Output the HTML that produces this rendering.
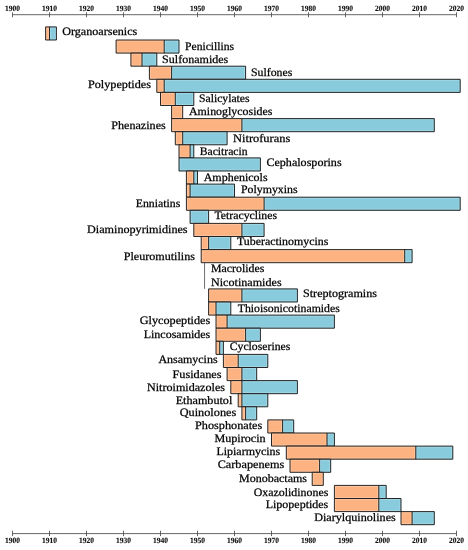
<!DOCTYPE html><html><head><meta charset="utf-8"><title>Antibiotic classes timeline</title><style>html,body{margin:0;padding:0;background:#fff}svg{display:block;will-change:transform;opacity:.999}text{font-family:"Liberation Serif",serif;text-rendering:geometricPrecision}</style></head><body>
<svg width="468" height="550" viewBox="0 0 468 550">
<rect width="468" height="550" fill="#fff"/>
<path d="M12.50 14.7H456.50M12.50 12.30V17.20M49.50 12.30V17.20M86.50 12.30V17.20M123.50 12.30V17.20M160.50 12.30V17.20M197.50 12.30V17.20M234.50 12.30V17.20M271.50 12.30V17.20M308.50 12.30V17.20M345.50 12.30V17.20M382.50 12.30V17.20M419.50 12.30V17.20M456.50 12.30V17.20" stroke="#4a4a4a" stroke-width="0.85" fill="none"/>
<text x="12.50" y="10.5" font-size="8" font-weight="bold" text-anchor="middle" textLength="15" lengthAdjust="spacingAndGlyphs" fill="#111" stroke="#111" stroke-width="0.12">1900</text>
<text x="49.50" y="10.5" font-size="8" font-weight="bold" text-anchor="middle" textLength="15" lengthAdjust="spacingAndGlyphs" fill="#111" stroke="#111" stroke-width="0.12">1910</text>
<text x="86.50" y="10.5" font-size="8" font-weight="bold" text-anchor="middle" textLength="15" lengthAdjust="spacingAndGlyphs" fill="#111" stroke="#111" stroke-width="0.12">1920</text>
<text x="123.50" y="10.5" font-size="8" font-weight="bold" text-anchor="middle" textLength="15" lengthAdjust="spacingAndGlyphs" fill="#111" stroke="#111" stroke-width="0.12">1930</text>
<text x="160.50" y="10.5" font-size="8" font-weight="bold" text-anchor="middle" textLength="15" lengthAdjust="spacingAndGlyphs" fill="#111" stroke="#111" stroke-width="0.12">1940</text>
<text x="197.50" y="10.5" font-size="8" font-weight="bold" text-anchor="middle" textLength="15" lengthAdjust="spacingAndGlyphs" fill="#111" stroke="#111" stroke-width="0.12">1950</text>
<text x="234.50" y="10.5" font-size="8" font-weight="bold" text-anchor="middle" textLength="15" lengthAdjust="spacingAndGlyphs" fill="#111" stroke="#111" stroke-width="0.12">1960</text>
<text x="271.50" y="10.5" font-size="8" font-weight="bold" text-anchor="middle" textLength="15" lengthAdjust="spacingAndGlyphs" fill="#111" stroke="#111" stroke-width="0.12">1970</text>
<text x="308.50" y="10.5" font-size="8" font-weight="bold" text-anchor="middle" textLength="15" lengthAdjust="spacingAndGlyphs" fill="#111" stroke="#111" stroke-width="0.12">1980</text>
<text x="345.50" y="10.5" font-size="8" font-weight="bold" text-anchor="middle" textLength="15" lengthAdjust="spacingAndGlyphs" fill="#111" stroke="#111" stroke-width="0.12">1990</text>
<text x="382.50" y="10.5" font-size="8" font-weight="bold" text-anchor="middle" textLength="15" lengthAdjust="spacingAndGlyphs" fill="#111" stroke="#111" stroke-width="0.12">2000</text>
<text x="419.50" y="10.5" font-size="8" font-weight="bold" text-anchor="middle" textLength="15" lengthAdjust="spacingAndGlyphs" fill="#111" stroke="#111" stroke-width="0.12">2010</text>
<text x="456.50" y="10.5" font-size="8" font-weight="bold" text-anchor="middle" textLength="15" lengthAdjust="spacingAndGlyphs" fill="#111" stroke="#111" stroke-width="0.12">2020</text>
<path d="M12.50 533.6H456.50M12.50 530.70V536.10M49.50 530.70V536.10M86.50 530.70V536.10M123.50 530.70V536.10M160.50 530.70V536.10M197.50 530.70V536.10M234.50 530.70V536.10M271.50 530.70V536.10M308.50 530.70V536.10M345.50 530.70V536.10M382.50 530.70V536.10M419.50 530.70V536.10M456.50 530.70V536.10" stroke="#4a4a4a" stroke-width="0.85" fill="none"/>
<text x="12.50" y="542.7" font-size="8" font-weight="bold" text-anchor="middle" textLength="15" lengthAdjust="spacingAndGlyphs" fill="#111" stroke="#111" stroke-width="0.12">1900</text>
<text x="49.50" y="542.7" font-size="8" font-weight="bold" text-anchor="middle" textLength="15" lengthAdjust="spacingAndGlyphs" fill="#111" stroke="#111" stroke-width="0.12">1910</text>
<text x="86.50" y="542.7" font-size="8" font-weight="bold" text-anchor="middle" textLength="15" lengthAdjust="spacingAndGlyphs" fill="#111" stroke="#111" stroke-width="0.12">1920</text>
<text x="123.50" y="542.7" font-size="8" font-weight="bold" text-anchor="middle" textLength="15" lengthAdjust="spacingAndGlyphs" fill="#111" stroke="#111" stroke-width="0.12">1930</text>
<text x="160.50" y="542.7" font-size="8" font-weight="bold" text-anchor="middle" textLength="15" lengthAdjust="spacingAndGlyphs" fill="#111" stroke="#111" stroke-width="0.12">1940</text>
<text x="197.50" y="542.7" font-size="8" font-weight="bold" text-anchor="middle" textLength="15" lengthAdjust="spacingAndGlyphs" fill="#111" stroke="#111" stroke-width="0.12">1950</text>
<text x="234.50" y="542.7" font-size="8" font-weight="bold" text-anchor="middle" textLength="15" lengthAdjust="spacingAndGlyphs" fill="#111" stroke="#111" stroke-width="0.12">1960</text>
<text x="271.50" y="542.7" font-size="8" font-weight="bold" text-anchor="middle" textLength="15" lengthAdjust="spacingAndGlyphs" fill="#111" stroke="#111" stroke-width="0.12">1970</text>
<text x="308.50" y="542.7" font-size="8" font-weight="bold" text-anchor="middle" textLength="15" lengthAdjust="spacingAndGlyphs" fill="#111" stroke="#111" stroke-width="0.12">1980</text>
<text x="345.50" y="542.7" font-size="8" font-weight="bold" text-anchor="middle" textLength="15" lengthAdjust="spacingAndGlyphs" fill="#111" stroke="#111" stroke-width="0.12">1990</text>
<text x="382.50" y="542.7" font-size="8" font-weight="bold" text-anchor="middle" textLength="15" lengthAdjust="spacingAndGlyphs" fill="#111" stroke="#111" stroke-width="0.12">2000</text>
<text x="419.50" y="542.7" font-size="8" font-weight="bold" text-anchor="middle" textLength="15" lengthAdjust="spacingAndGlyphs" fill="#111" stroke="#111" stroke-width="0.12">2010</text>
<text x="456.50" y="542.7" font-size="8" font-weight="bold" text-anchor="middle" textLength="15" lengthAdjust="spacingAndGlyphs" fill="#111" stroke="#111" stroke-width="0.12">2020</text>
<rect x="45.62" y="26.90" width="3.88" height="13.10" fill="#FDB381"/><rect x="49.50" y="26.90" width="6.92" height="13.10" fill="#87CBDD"/><rect x="46.67" y="27.95" width="1.78" height="11.00" fill="none" stroke="#fff" stroke-opacity="0.22" stroke-width="1"/><rect x="50.55" y="27.95" width="4.82" height="11.00" fill="none" stroke="#fff" stroke-opacity="0.22" stroke-width="1"/><path d="M45.62 26.90H56.42V40.00H45.62ZM49.50 26.90V40.00" fill="none" stroke="#1c1c1c" stroke-width="0.95"/>
<text x="62.20" y="34.80" font-size="11.4" textLength="75.10" lengthAdjust="spacingAndGlyphs" fill="#000" stroke="#000" stroke-width="0.25">Organoarsenics</text>
<rect x="116.10" y="40.00" width="48.10" height="13.10" fill="#FDB381"/><rect x="164.20" y="40.00" width="14.80" height="13.10" fill="#87CBDD"/><rect x="117.15" y="41.05" width="46.00" height="11.00" fill="none" stroke="#fff" stroke-opacity="0.22" stroke-width="1"/><rect x="165.25" y="41.05" width="12.70" height="11.00" fill="none" stroke="#fff" stroke-opacity="0.22" stroke-width="1"/><path d="M116.10 40.00H179.00V53.10H116.10ZM164.20 40.00V53.10" fill="none" stroke="#1c1c1c" stroke-width="0.95"/>
<text x="185.00" y="50.20" font-size="11.4" textLength="49.10" lengthAdjust="spacingAndGlyphs" fill="#000" stroke="#000" stroke-width="0.25">Penicillins</text>
<rect x="130.90" y="53.10" width="11.10" height="13.10" fill="#FDB381"/><rect x="142.00" y="53.10" width="14.80" height="13.10" fill="#87CBDD"/><rect x="131.95" y="54.15" width="9.00" height="11.00" fill="none" stroke="#fff" stroke-opacity="0.22" stroke-width="1"/><rect x="143.05" y="54.15" width="12.70" height="11.00" fill="none" stroke="#fff" stroke-opacity="0.22" stroke-width="1"/><path d="M130.90 53.10H156.80V66.20H130.90ZM142.00 53.10V66.20" fill="none" stroke="#1c1c1c" stroke-width="0.95"/>
<text x="162.10" y="63.30" font-size="11.4" textLength="66.20" lengthAdjust="spacingAndGlyphs" fill="#000" stroke="#000" stroke-width="0.25">Sulfonamides</text>
<rect x="149.40" y="66.20" width="22.20" height="13.10" fill="#FDB381"/><rect x="171.60" y="66.20" width="74.00" height="13.10" fill="#87CBDD"/><rect x="150.45" y="67.25" width="20.10" height="11.00" fill="none" stroke="#fff" stroke-opacity="0.22" stroke-width="1"/><rect x="172.65" y="67.25" width="71.90" height="11.00" fill="none" stroke="#fff" stroke-opacity="0.22" stroke-width="1"/><path d="M149.40 66.20H245.60V79.30H149.40ZM171.60 66.20V79.30" fill="none" stroke="#1c1c1c" stroke-width="0.95"/>
<text x="251.00" y="76.20" font-size="11.4" textLength="41.30" lengthAdjust="spacingAndGlyphs" fill="#000" stroke="#000" stroke-width="0.25">Sulfones</text>
<rect x="156.80" y="79.30" width="7.40" height="13.10" fill="#FDB381"/><rect x="164.20" y="79.30" width="296.00" height="13.10" fill="#87CBDD"/><rect x="157.85" y="80.35" width="5.30" height="11.00" fill="none" stroke="#fff" stroke-opacity="0.22" stroke-width="1"/><rect x="165.25" y="80.35" width="293.90" height="11.00" fill="none" stroke="#fff" stroke-opacity="0.22" stroke-width="1"/><path d="M156.80 79.30H460.20V92.40H156.80ZM164.20 79.30V92.40" fill="none" stroke="#1c1c1c" stroke-width="0.95"/>
<text x="87.90" y="88.00" font-size="11.4" textLength="63.10" lengthAdjust="spacingAndGlyphs" fill="#000" stroke="#000" stroke-width="0.25">Polypeptides</text>
<rect x="160.50" y="92.40" width="14.80" height="13.10" fill="#FDB381"/><rect x="175.30" y="92.40" width="18.50" height="13.10" fill="#87CBDD"/><rect x="161.55" y="93.45" width="12.70" height="11.00" fill="none" stroke="#fff" stroke-opacity="0.22" stroke-width="1"/><rect x="176.35" y="93.45" width="16.40" height="11.00" fill="none" stroke="#fff" stroke-opacity="0.22" stroke-width="1"/><path d="M160.50 92.40H193.80V105.50H160.50ZM175.30 92.40V105.50" fill="none" stroke="#1c1c1c" stroke-width="0.95"/>
<text x="199.00" y="101.70" font-size="11.4" textLength="50.60" lengthAdjust="spacingAndGlyphs" fill="#000" stroke="#000" stroke-width="0.25">Salicylates</text>
<rect x="171.60" y="105.50" width="11.10" height="13.10" fill="#FDB381"/><rect x="172.65" y="106.55" width="9.00" height="11.00" fill="none" stroke="#fff" stroke-opacity="0.22" stroke-width="1"/><path d="M171.60 105.50H182.70V118.60H171.60Z" fill="none" stroke="#1c1c1c" stroke-width="0.95"/>
<text x="189.00" y="114.70" font-size="11.4" textLength="83.30" lengthAdjust="spacingAndGlyphs" fill="#000" stroke="#000" stroke-width="0.25">Aminoglycosides</text>
<rect x="171.60" y="118.60" width="70.30" height="13.10" fill="#FDB381"/><rect x="241.90" y="118.60" width="192.40" height="13.10" fill="#87CBDD"/><rect x="172.65" y="119.65" width="68.20" height="11.00" fill="none" stroke="#fff" stroke-opacity="0.22" stroke-width="1"/><rect x="242.95" y="119.65" width="190.30" height="11.00" fill="none" stroke="#fff" stroke-opacity="0.22" stroke-width="1"/><path d="M171.60 118.60H434.30V131.70H171.60ZM241.90 118.60V131.70" fill="none" stroke="#1c1c1c" stroke-width="0.95"/>
<text x="111.20" y="128.70" font-size="11.4" textLength="54.60" lengthAdjust="spacingAndGlyphs" fill="#000" stroke="#000" stroke-width="0.25">Phenazines</text>
<rect x="175.30" y="131.70" width="7.40" height="13.10" fill="#FDB381"/><rect x="182.70" y="131.70" width="44.40" height="13.10" fill="#87CBDD"/><rect x="176.35" y="132.75" width="5.30" height="11.00" fill="none" stroke="#fff" stroke-opacity="0.22" stroke-width="1"/><rect x="183.75" y="132.75" width="42.30" height="11.00" fill="none" stroke="#fff" stroke-opacity="0.22" stroke-width="1"/><path d="M175.30 131.70H227.10V144.80H175.30ZM182.70 131.70V144.80" fill="none" stroke="#1c1c1c" stroke-width="0.95"/>
<text x="233.00" y="141.80" font-size="11.4" textLength="57.30" lengthAdjust="spacingAndGlyphs" fill="#000" stroke="#000" stroke-width="0.25">Nitrofurans</text>
<rect x="179.00" y="144.80" width="11.10" height="13.10" fill="#FDB381"/><rect x="190.10" y="144.80" width="3.70" height="13.10" fill="#87CBDD"/><rect x="180.05" y="145.85" width="9.00" height="11.00" fill="none" stroke="#fff" stroke-opacity="0.22" stroke-width="1"/><rect x="191.15" y="145.85" width="1.60" height="11.00" fill="none" stroke="#fff" stroke-opacity="0.22" stroke-width="1"/><path d="M179.00 144.80H193.80V157.90H179.00ZM190.10 144.80V157.90" fill="none" stroke="#1c1c1c" stroke-width="0.95"/>
<text x="199.70" y="154.50" font-size="11.4" textLength="47.90" lengthAdjust="spacingAndGlyphs" fill="#000" stroke="#000" stroke-width="0.25">Bacitracin</text>
<rect x="179.00" y="157.90" width="81.40" height="13.10" fill="#87CBDD"/><rect x="180.05" y="158.95" width="79.30" height="11.00" fill="none" stroke="#fff" stroke-opacity="0.22" stroke-width="1"/><path d="M179.00 157.90H260.40V171.00H179.00Z" fill="none" stroke="#1c1c1c" stroke-width="0.95"/>
<text x="266.40" y="166.30" font-size="11.4" textLength="75.20" lengthAdjust="spacingAndGlyphs" fill="#000" stroke="#000" stroke-width="0.25">Cephalosporins</text>
<rect x="186.40" y="171.00" width="7.40" height="13.10" fill="#FDB381"/><rect x="193.80" y="171.00" width="3.70" height="13.10" fill="#87CBDD"/><rect x="187.45" y="172.05" width="5.30" height="11.00" fill="none" stroke="#fff" stroke-opacity="0.22" stroke-width="1"/><rect x="194.85" y="172.05" width="1.60" height="11.00" fill="none" stroke="#fff" stroke-opacity="0.22" stroke-width="1"/><path d="M186.40 171.00H197.50V184.10H186.40ZM193.80 171.00V184.10" fill="none" stroke="#1c1c1c" stroke-width="0.95"/>
<text x="203.70" y="180.60" font-size="11.4" textLength="63.90" lengthAdjust="spacingAndGlyphs" fill="#000" stroke="#000" stroke-width="0.25">Amphenicols</text>
<rect x="186.40" y="184.10" width="3.70" height="13.10" fill="#FDB381"/><rect x="190.10" y="184.10" width="44.40" height="13.10" fill="#87CBDD"/><rect x="187.45" y="185.15" width="1.60" height="11.00" fill="none" stroke="#fff" stroke-opacity="0.22" stroke-width="1"/><rect x="191.15" y="185.15" width="42.30" height="11.00" fill="none" stroke="#fff" stroke-opacity="0.22" stroke-width="1"/><path d="M186.40 184.10H234.50V197.20H186.40ZM190.10 184.10V197.20" fill="none" stroke="#1c1c1c" stroke-width="0.95"/>
<text x="241.00" y="193.10" font-size="11.4" textLength="56.60" lengthAdjust="spacingAndGlyphs" fill="#000" stroke="#000" stroke-width="0.25">Polymyxins</text>
<rect x="186.40" y="197.20" width="77.70" height="13.10" fill="#FDB381"/><rect x="264.10" y="197.20" width="196.10" height="13.10" fill="#87CBDD"/><rect x="187.45" y="198.25" width="75.60" height="11.00" fill="none" stroke="#fff" stroke-opacity="0.22" stroke-width="1"/><rect x="265.15" y="198.25" width="194.00" height="11.00" fill="none" stroke="#fff" stroke-opacity="0.22" stroke-width="1"/><path d="M186.40 197.20H460.20V210.30H186.40ZM264.10 197.20V210.30" fill="none" stroke="#1c1c1c" stroke-width="0.95"/>
<text x="135.70" y="207.00" font-size="11.4" textLength="44.60" lengthAdjust="spacingAndGlyphs" fill="#000" stroke="#000" stroke-width="0.25">Enniatins</text>
<rect x="190.10" y="210.30" width="18.50" height="13.10" fill="#87CBDD"/><rect x="191.15" y="211.35" width="16.40" height="11.00" fill="none" stroke="#fff" stroke-opacity="0.22" stroke-width="1"/><path d="M190.10 210.30H208.60V223.40H190.10Z" fill="none" stroke="#1c1c1c" stroke-width="0.95"/>
<text x="214.40" y="219.10" font-size="11.4" textLength="62.60" lengthAdjust="spacingAndGlyphs" fill="#000" stroke="#000" stroke-width="0.25">Tetracyclines</text>
<rect x="193.80" y="223.40" width="48.10" height="13.10" fill="#FDB381"/><rect x="241.90" y="223.40" width="22.20" height="13.10" fill="#87CBDD"/><rect x="194.85" y="224.45" width="46.00" height="11.00" fill="none" stroke="#fff" stroke-opacity="0.22" stroke-width="1"/><rect x="242.95" y="224.45" width="20.10" height="11.00" fill="none" stroke="#fff" stroke-opacity="0.22" stroke-width="1"/><path d="M193.80 223.40H264.10V236.50H193.80ZM241.90 223.40V236.50" fill="none" stroke="#1c1c1c" stroke-width="0.95"/>
<text x="87.00" y="232.90" font-size="11.4" textLength="100.60" lengthAdjust="spacingAndGlyphs" fill="#000" stroke="#000" stroke-width="0.25">Diaminopyrimidines</text>
<rect x="201.20" y="236.50" width="7.40" height="13.10" fill="#FDB381"/><rect x="208.60" y="236.50" width="22.20" height="13.10" fill="#87CBDD"/><rect x="202.25" y="237.55" width="5.30" height="11.00" fill="none" stroke="#fff" stroke-opacity="0.22" stroke-width="1"/><rect x="209.65" y="237.55" width="20.10" height="11.00" fill="none" stroke="#fff" stroke-opacity="0.22" stroke-width="1"/><path d="M201.20 236.50H230.80V249.60H201.20ZM208.60 236.50V249.60" fill="none" stroke="#1c1c1c" stroke-width="0.95"/>
<text x="237.00" y="245.30" font-size="11.4" textLength="91.30" lengthAdjust="spacingAndGlyphs" fill="#000" stroke="#000" stroke-width="0.25">Tuberactinomycins</text>
<rect x="201.20" y="249.60" width="203.50" height="13.10" fill="#FDB381"/><rect x="404.70" y="249.60" width="7.40" height="13.10" fill="#87CBDD"/><rect x="202.25" y="250.65" width="201.40" height="11.00" fill="none" stroke="#fff" stroke-opacity="0.22" stroke-width="1"/><rect x="405.75" y="250.65" width="5.30" height="11.00" fill="none" stroke="#fff" stroke-opacity="0.22" stroke-width="1"/><path d="M201.20 249.60H412.10V262.70H201.20ZM404.70 249.60V262.70" fill="none" stroke="#1c1c1c" stroke-width="0.95"/>
<text x="123.70" y="259.55" font-size="11.4" textLength="71.30" lengthAdjust="spacingAndGlyphs" fill="#000" stroke="#000" stroke-width="0.25">Pleuromutilins</text>
<path d="M204.55 262.70V275.80" fill="none" stroke="#4a4a4a" stroke-width="0.8"/>
<text x="211.00" y="272.40" font-size="11.4" textLength="53.30" lengthAdjust="spacingAndGlyphs" fill="#000" stroke="#000" stroke-width="0.25">Macrolides</text>
<path d="M204.55 275.80V288.90" fill="none" stroke="#4a4a4a" stroke-width="0.8"/>
<text x="211.00" y="285.80" font-size="11.4" textLength="70.60" lengthAdjust="spacingAndGlyphs" fill="#000" stroke="#000" stroke-width="0.25">Nicotinamides</text>
<rect x="208.60" y="288.90" width="33.30" height="13.10" fill="#FDB381"/><rect x="241.90" y="288.90" width="55.50" height="13.10" fill="#87CBDD"/><rect x="209.65" y="289.95" width="31.20" height="11.00" fill="none" stroke="#fff" stroke-opacity="0.22" stroke-width="1"/><rect x="242.95" y="289.95" width="53.40" height="11.00" fill="none" stroke="#fff" stroke-opacity="0.22" stroke-width="1"/><path d="M208.60 288.90H297.40V302.00H208.60ZM241.90 288.90V302.00" fill="none" stroke="#1c1c1c" stroke-width="0.95"/>
<text x="303.00" y="296.80" font-size="11.4" textLength="74.00" lengthAdjust="spacingAndGlyphs" fill="#000" stroke="#000" stroke-width="0.25">Streptogramins</text>
<rect x="208.60" y="302.00" width="7.40" height="13.10" fill="#FDB381"/><rect x="216.00" y="302.00" width="14.80" height="13.10" fill="#87CBDD"/><rect x="209.65" y="303.05" width="5.30" height="11.00" fill="none" stroke="#fff" stroke-opacity="0.22" stroke-width="1"/><rect x="217.05" y="303.05" width="12.70" height="11.00" fill="none" stroke="#fff" stroke-opacity="0.22" stroke-width="1"/><path d="M208.60 302.00H230.80V315.10H208.60ZM216.00 302.00V315.10" fill="none" stroke="#1c1c1c" stroke-width="0.95"/>
<text x="237.70" y="312.30" font-size="11.4" textLength="102.10" lengthAdjust="spacingAndGlyphs" fill="#000" stroke="#000" stroke-width="0.25">Thioisonicotinamides</text>
<rect x="216.00" y="315.10" width="11.10" height="13.10" fill="#FDB381"/><rect x="227.10" y="315.10" width="107.30" height="13.10" fill="#87CBDD"/><rect x="217.05" y="316.15" width="9.00" height="11.00" fill="none" stroke="#fff" stroke-opacity="0.22" stroke-width="1"/><rect x="228.15" y="316.15" width="105.20" height="11.00" fill="none" stroke="#fff" stroke-opacity="0.22" stroke-width="1"/><path d="M216.00 315.10H334.40V328.20H216.00ZM227.10 315.10V328.20" fill="none" stroke="#1c1c1c" stroke-width="0.95"/>
<text x="139.70" y="323.70" font-size="11.4" textLength="70.60" lengthAdjust="spacingAndGlyphs" fill="#000" stroke="#000" stroke-width="0.25">Glycopeptides</text>
<rect x="216.00" y="328.20" width="29.60" height="13.10" fill="#FDB381"/><rect x="245.60" y="328.20" width="14.80" height="13.10" fill="#87CBDD"/><rect x="217.05" y="329.25" width="27.50" height="11.00" fill="none" stroke="#fff" stroke-opacity="0.22" stroke-width="1"/><rect x="246.65" y="329.25" width="12.70" height="11.00" fill="none" stroke="#fff" stroke-opacity="0.22" stroke-width="1"/><path d="M216.00 328.20H260.40V341.30H216.00ZM245.60 328.20V341.30" fill="none" stroke="#1c1c1c" stroke-width="0.95"/>
<text x="143.70" y="338.20" font-size="11.4" textLength="66.60" lengthAdjust="spacingAndGlyphs" fill="#000" stroke="#000" stroke-width="0.25">Lincosamides</text>
<rect x="216.00" y="341.30" width="3.70" height="13.10" fill="#FDB381"/><rect x="219.70" y="341.30" width="3.70" height="13.10" fill="#87CBDD"/><rect x="217.05" y="342.35" width="1.60" height="11.00" fill="none" stroke="#fff" stroke-opacity="0.22" stroke-width="1"/><rect x="220.75" y="342.35" width="1.60" height="11.00" fill="none" stroke="#fff" stroke-opacity="0.22" stroke-width="1"/><path d="M216.00 341.30H223.40V354.40H216.00ZM219.70 341.30V354.40" fill="none" stroke="#1c1c1c" stroke-width="0.95"/>
<text x="229.70" y="349.60" font-size="11.4" textLength="60.60" lengthAdjust="spacingAndGlyphs" fill="#000" stroke="#000" stroke-width="0.25">Cycloserines</text>
<rect x="223.40" y="354.40" width="14.80" height="13.10" fill="#FDB381"/><rect x="238.20" y="354.40" width="29.60" height="13.10" fill="#87CBDD"/><rect x="224.45" y="355.45" width="12.70" height="11.00" fill="none" stroke="#fff" stroke-opacity="0.22" stroke-width="1"/><rect x="239.25" y="355.45" width="27.50" height="11.00" fill="none" stroke="#fff" stroke-opacity="0.22" stroke-width="1"/><path d="M223.40 354.40H267.80V367.50H223.40ZM238.20 354.40V367.50" fill="none" stroke="#1c1c1c" stroke-width="0.95"/>
<text x="158.40" y="362.80" font-size="11.4" textLength="59.20" lengthAdjust="spacingAndGlyphs" fill="#000" stroke="#000" stroke-width="0.25">Ansamycins</text>
<rect x="227.10" y="367.50" width="14.80" height="13.10" fill="#FDB381"/><rect x="241.90" y="367.50" width="14.80" height="13.10" fill="#87CBDD"/><rect x="228.15" y="368.55" width="12.70" height="11.00" fill="none" stroke="#fff" stroke-opacity="0.22" stroke-width="1"/><rect x="242.95" y="368.55" width="12.70" height="11.00" fill="none" stroke="#fff" stroke-opacity="0.22" stroke-width="1"/><path d="M227.10 367.50H256.70V380.60H227.10ZM241.90 367.50V380.60" fill="none" stroke="#1c1c1c" stroke-width="0.95"/>
<text x="172.40" y="378.00" font-size="11.4" textLength="49.20" lengthAdjust="spacingAndGlyphs" fill="#000" stroke="#000" stroke-width="0.25">Fusidanes</text>
<rect x="230.80" y="380.60" width="11.10" height="13.10" fill="#FDB381"/><rect x="241.90" y="380.60" width="55.50" height="13.10" fill="#87CBDD"/><rect x="231.85" y="381.65" width="9.00" height="11.00" fill="none" stroke="#fff" stroke-opacity="0.22" stroke-width="1"/><rect x="242.95" y="381.65" width="53.40" height="11.00" fill="none" stroke="#fff" stroke-opacity="0.22" stroke-width="1"/><path d="M230.80 380.60H297.40V393.70H230.80ZM241.90 380.60V393.70" fill="none" stroke="#1c1c1c" stroke-width="0.95"/>
<text x="147.00" y="391.00" font-size="11.4" textLength="78.00" lengthAdjust="spacingAndGlyphs" fill="#000" stroke="#000" stroke-width="0.25">Nitroimidazoles</text>
<rect x="238.20" y="393.70" width="3.70" height="13.10" fill="#FDB381"/><rect x="241.90" y="393.70" width="25.90" height="13.10" fill="#87CBDD"/><rect x="239.25" y="394.75" width="1.60" height="11.00" fill="none" stroke="#fff" stroke-opacity="0.22" stroke-width="1"/><rect x="242.95" y="394.75" width="23.80" height="11.00" fill="none" stroke="#fff" stroke-opacity="0.22" stroke-width="1"/><path d="M238.20 393.70H267.80V406.80H238.20ZM241.90 393.70V406.80" fill="none" stroke="#1c1c1c" stroke-width="0.95"/>
<text x="175.70" y="404.40" font-size="11.4" textLength="56.60" lengthAdjust="spacingAndGlyphs" fill="#000" stroke="#000" stroke-width="0.25">Ethambutol</text>
<rect x="241.90" y="406.80" width="3.70" height="13.10" fill="#FDB381"/><rect x="245.60" y="406.80" width="11.10" height="13.10" fill="#87CBDD"/><rect x="242.95" y="407.85" width="1.60" height="11.00" fill="none" stroke="#fff" stroke-opacity="0.22" stroke-width="1"/><rect x="246.65" y="407.85" width="9.00" height="11.00" fill="none" stroke="#fff" stroke-opacity="0.22" stroke-width="1"/><path d="M241.90 406.80H256.70V419.90H241.90ZM245.60 406.80V419.90" fill="none" stroke="#1c1c1c" stroke-width="0.95"/>
<text x="179.70" y="416.30" font-size="11.4" textLength="56.60" lengthAdjust="spacingAndGlyphs" fill="#000" stroke="#000" stroke-width="0.25">Quinolones</text>
<rect x="267.80" y="419.90" width="14.80" height="13.10" fill="#FDB381"/><rect x="282.60" y="419.90" width="11.10" height="13.10" fill="#87CBDD"/><rect x="268.85" y="420.95" width="12.70" height="11.00" fill="none" stroke="#fff" stroke-opacity="0.22" stroke-width="1"/><rect x="283.65" y="420.95" width="9.00" height="11.00" fill="none" stroke="#fff" stroke-opacity="0.22" stroke-width="1"/><path d="M267.80 419.90H293.70V433.00H267.80ZM282.60 419.90V433.00" fill="none" stroke="#1c1c1c" stroke-width="0.95"/>
<text x="195.00" y="429.00" font-size="11.4" textLength="67.30" lengthAdjust="spacingAndGlyphs" fill="#000" stroke="#000" stroke-width="0.25">Phosphonates</text>
<rect x="271.50" y="433.00" width="55.50" height="13.10" fill="#FDB381"/><rect x="327.00" y="433.00" width="7.40" height="13.10" fill="#87CBDD"/><rect x="272.55" y="434.05" width="53.40" height="11.00" fill="none" stroke="#fff" stroke-opacity="0.22" stroke-width="1"/><rect x="328.05" y="434.05" width="5.30" height="11.00" fill="none" stroke="#fff" stroke-opacity="0.22" stroke-width="1"/><path d="M271.50 433.00H334.40V446.10H271.50ZM327.00 433.00V446.10" fill="none" stroke="#1c1c1c" stroke-width="0.95"/>
<text x="214.40" y="441.80" font-size="11.4" textLength="51.20" lengthAdjust="spacingAndGlyphs" fill="#000" stroke="#000" stroke-width="0.25">Mupirocin</text>
<rect x="286.30" y="446.10" width="129.50" height="13.10" fill="#FDB381"/><rect x="415.80" y="446.10" width="37.00" height="13.10" fill="#87CBDD"/><rect x="287.35" y="447.15" width="127.40" height="11.00" fill="none" stroke="#fff" stroke-opacity="0.22" stroke-width="1"/><rect x="416.85" y="447.15" width="34.90" height="11.00" fill="none" stroke="#fff" stroke-opacity="0.22" stroke-width="1"/><path d="M286.30 446.10H452.80V459.20H286.30ZM415.80 446.10V459.20" fill="none" stroke="#1c1c1c" stroke-width="0.95"/>
<text x="216.40" y="454.50" font-size="11.4" textLength="63.90" lengthAdjust="spacingAndGlyphs" fill="#000" stroke="#000" stroke-width="0.25">Lipiarmycins</text>
<rect x="290.00" y="459.20" width="29.60" height="13.10" fill="#FDB381"/><rect x="319.60" y="459.20" width="11.10" height="13.10" fill="#87CBDD"/><rect x="291.05" y="460.25" width="27.50" height="11.00" fill="none" stroke="#fff" stroke-opacity="0.22" stroke-width="1"/><rect x="320.65" y="460.25" width="9.00" height="11.00" fill="none" stroke="#fff" stroke-opacity="0.22" stroke-width="1"/><path d="M290.00 459.20H330.70V472.30H290.00ZM319.60 459.20V472.30" fill="none" stroke="#1c1c1c" stroke-width="0.95"/>
<text x="217.70" y="467.80" font-size="11.4" textLength="66.60" lengthAdjust="spacingAndGlyphs" fill="#000" stroke="#000" stroke-width="0.25">Carbapenems</text>
<rect x="312.20" y="472.30" width="11.10" height="13.10" fill="#FDB381"/><rect x="313.25" y="473.35" width="9.00" height="11.00" fill="none" stroke="#fff" stroke-opacity="0.22" stroke-width="1"/><path d="M312.20 472.30H323.30V485.40H312.20Z" fill="none" stroke="#1c1c1c" stroke-width="0.95"/>
<text x="239.00" y="482.20" font-size="11.4" textLength="68.00" lengthAdjust="spacingAndGlyphs" fill="#000" stroke="#000" stroke-width="0.25">Monobactams</text>
<rect x="334.40" y="485.40" width="44.40" height="13.10" fill="#FDB381"/><rect x="378.80" y="485.40" width="7.40" height="13.10" fill="#87CBDD"/><rect x="335.45" y="486.45" width="42.30" height="11.00" fill="none" stroke="#fff" stroke-opacity="0.22" stroke-width="1"/><rect x="379.85" y="486.45" width="5.30" height="11.00" fill="none" stroke="#fff" stroke-opacity="0.22" stroke-width="1"/><path d="M334.40 485.40H386.20V498.50H334.40ZM378.80 485.40V498.50" fill="none" stroke="#1c1c1c" stroke-width="0.95"/>
<text x="253.70" y="496.20" font-size="11.4" textLength="74.60" lengthAdjust="spacingAndGlyphs" fill="#000" stroke="#000" stroke-width="0.25">Oxazolidinones</text>
<rect x="334.40" y="498.50" width="44.40" height="13.10" fill="#FDB381"/><rect x="378.80" y="498.50" width="22.20" height="13.10" fill="#87CBDD"/><rect x="335.45" y="499.55" width="42.30" height="11.00" fill="none" stroke="#fff" stroke-opacity="0.22" stroke-width="1"/><rect x="379.85" y="499.55" width="20.10" height="11.00" fill="none" stroke="#fff" stroke-opacity="0.22" stroke-width="1"/><path d="M334.40 498.50H401.00V511.60H334.40ZM378.80 498.50V511.60" fill="none" stroke="#1c1c1c" stroke-width="0.95"/>
<text x="265.70" y="507.50" font-size="11.4" textLength="62.60" lengthAdjust="spacingAndGlyphs" fill="#000" stroke="#000" stroke-width="0.25">Lipopeptides</text>
<rect x="401.00" y="511.60" width="11.10" height="13.10" fill="#FDB381"/><rect x="412.10" y="511.60" width="22.20" height="13.10" fill="#87CBDD"/><rect x="402.05" y="512.65" width="9.00" height="11.00" fill="none" stroke="#fff" stroke-opacity="0.22" stroke-width="1"/><rect x="413.15" y="512.65" width="20.10" height="11.00" fill="none" stroke="#fff" stroke-opacity="0.22" stroke-width="1"/><path d="M401.00 511.60H434.30V524.70H401.00ZM412.10 511.60V524.70" fill="none" stroke="#1c1c1c" stroke-width="0.95"/>
<text x="314.20" y="520.50" font-size="11.4" textLength="81.60" lengthAdjust="spacingAndGlyphs" fill="#000" stroke="#000" stroke-width="0.25">Diarylquinolines</text>
</svg></body></html>
